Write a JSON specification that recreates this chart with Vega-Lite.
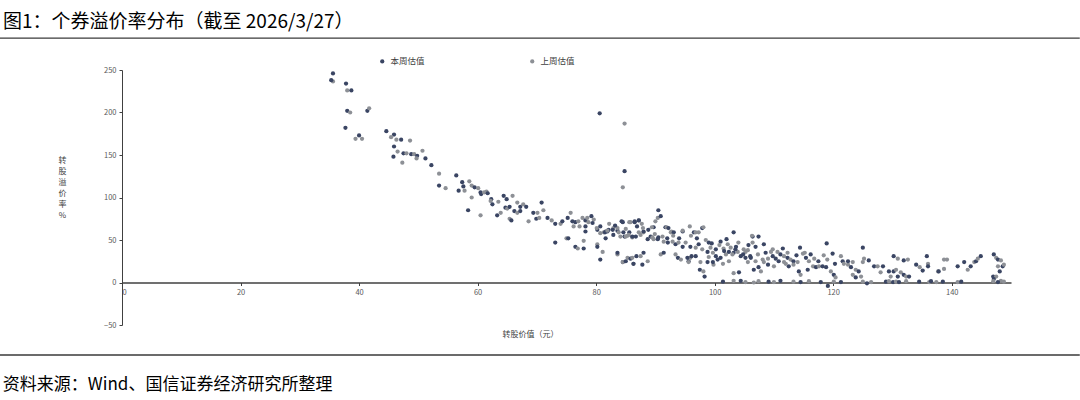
{
  "$schema": "https://vega.github.io/schema/vega-lite/v6.json",
  "autosize": "none",
  "width": 889,
  "height": 255,
  "padding": {"left": 122, "top": 70, "right": 69, "bottom": 75},
  "background": "white",
  "config": {"view": {"stroke": null}, "font": "Noto Sans CJK SC"},
  "title": {"text": "图1：个券溢价率分布（截至 2026/3/27）", "anchor": "start", "frame": "group", "dx": -119, "offset": 5, "fontSize": 19, "fontWeight": "normal", "color": "#000000", "font": "Noto Sans CJK SC"},
  "layer": [
    {
      "data": {"values": [{}]},
      "mark": {"type": "rule", "color": "#3a3a3a", "strokeWidth": 1.3},
      "encoding": {"x": {"datum": -20.6, "type": "quantitative"}, "x2": {"datum": 161.6}, "y": {"datum": 287.6, "type": "quantitative"}}
    },
    {
      "data": {"values": [{}]},
      "mark": {"type": "rule", "color": "#3a3a3a", "strokeWidth": 1.6},
      "encoding": {"x": {"datum": -20.6, "type": "quantitative"}, "x2": {"datum": 161.6}, "y": {"datum": -85.3, "type": "quantitative"}}
    },
    {
      "data": {"values": [{"t": "资料来源：Wind、国信证券经济研究所整理"}]},
      "mark": {"type": "text", "align": "left", "baseline": "middle", "fontSize": 17, "color": "#000000", "font": "Noto Sans CJK SC"},
      "encoding": {"x": {"datum": -20.1, "type": "quantitative"}, "y": {"datum": -120.6, "type": "quantitative"}, "text": {"field": "t"}}
    },
    {
      "data": {"values": [
{"x":35.6,"y":245.9,"s":"本周估值"},{"x":35.6,"y":236.5,"s":"上周估值"},{"x":35.3,"y":238,"s":"本周估值"},{"x":37.8,"y":234,"s":"本周估值"},{"x":38.0,"y":226,"s":"上周估值"},{"x":38.7,"y":226,"s":"本周估值"},{"x":38.0,"y":202,"s":"本周估值"},{"x":38.5,"y":200,"s":"上周估值"},{"x":37.7,"y":182,"s":"本周估值"},{"x":39.4,"y":169,"s":"上周估值"},
{"x":40.0,"y":173,"s":"本周估值"},{"x":40.5,"y":169,"s":"上周估值"},{"x":41.4,"y":202,"s":"本周估值"},{"x":41.7,"y":205,"s":"上周估值"},{"x":44.6,"y":178,"s":"本周估值"},{"x":45.9,"y":174,"s":"本周估值"},{"x":45.4,"y":171,"s":"上周估值"},{"x":46.3,"y":168,"s":"上周估值"},{"x":47.1,"y":168,"s":"本周估值"},{"x":48.6,"y":167,"s":"上周估值"},
{"x":45.9,"y":160,"s":"本周估值"},{"x":46.5,"y":154,"s":"上周估值"},{"x":45.8,"y":148,"s":"本周估值"},{"x":47.5,"y":152,"s":"本周估值"},{"x":48.0,"y":152,"s":"上周估值"},{"x":48.8,"y":151,"s":"本周估值"},{"x":49.3,"y":151,"s":"上周估值"},{"x":49.8,"y":149,"s":"本周估值"},{"x":50.7,"y":155,"s":"上周估值"},{"x":49.7,"y":146,"s":"上周估值"},
{"x":51.2,"y":146,"s":"本周估值"},{"x":47.3,"y":141,"s":"上周估值"},{"x":52.2,"y":138,"s":"本周估值"},{"x":53.5,"y":128,"s":"上周估值"},{"x":53.5,"y":114,"s":"本周估值"},{"x":54.6,"y":111,"s":"上周估值"},{"x":56.4,"y":126,"s":"本周估值"},{"x":57.4,"y":118,"s":"本周估值"},{"x":58.6,"y":119,"s":"上周估值"},{"x":57.6,"y":113,"s":"本周估值"},
{"x":59.0,"y":114,"s":"上周估值"},{"x":59.5,"y":112,"s":"本周估值"},{"x":60.1,"y":111,"s":"上周估值"},{"x":60.6,"y":104,"s":"本周估值"},{"x":61.5,"y":107,"s":"上周估值"},{"x":59.0,"y":100,"s":"上周估值"},{"x":62.3,"y":98,"s":"本周估值"},{"x":64.4,"y":102,"s":"本周估值"},{"x":65.9,"y":102,"s":"上周估值"},{"x":56.8,"y":108,"s":"本周估值"},
{"x":57.8,"y":108,"s":"上周估值"},{"x":58.4,"y":85,"s":"本周估值"},{"x":60.5,"y":79,"s":"上周估值"},{"x":60.5,"y":106,"s":"本周估值"},{"x":61.1,"y":106,"s":"上周估值"},{"x":61.7,"y":105,"s":"本周估值"},{"x":62.2,"y":96,"s":"上周估值"},{"x":62.5,"y":92,"s":"本周估值"},{"x":63.5,"y":95,"s":"上周估值"},{"x":64.9,"y":98,"s":"本周估值"},
{"x":63.3,"y":79,"s":"本周估值"},{"x":63.9,"y":82,"s":"上周估值"},{"x":64.7,"y":88,"s":"本周估值"},{"x":65.0,"y":87,"s":"上周估值"},{"x":65.4,"y":89,"s":"本周估值"},{"x":65.4,"y":75,"s":"上周估值"},{"x":65.7,"y":73,"s":"本周估值"},{"x":66.7,"y":94,"s":"上周估值"},{"x":67.2,"y":89,"s":"本周估值"},{"x":67.7,"y":92,"s":"上周估值"},
{"x":68.2,"y":89,"s":"本周估值"},{"x":66.2,"y":84,"s":"本周估值"},{"x":66.7,"y":82,"s":"上周估值"},{"x":67.2,"y":84,"s":"本周估值"},{"x":68.6,"y":72,"s":"上周估值"},{"x":69.4,"y":82,"s":"本周估值"},{"x":70.1,"y":82,"s":"上周估值"},{"x":69.9,"y":75,"s":"本周估值"},{"x":70.4,"y":76,"s":"上周估值"},{"x":70.8,"y":94,"s":"本周估值"},
{"x":71.1,"y":85,"s":"上周估值"},{"x":71.8,"y":76,"s":"本周估值"},{"x":72.5,"y":73,"s":"上周估值"},{"x":73.1,"y":69,"s":"本周估值"},{"x":73.1,"y":47,"s":"本周估值"},{"x":74.0,"y":69,"s":"上周估值"},{"x":74.3,"y":72,"s":"本周估值"},{"x":75.0,"y":52,"s":"上周估值"},{"x":75.3,"y":52,"s":"本周估值"},{"x":75.2,"y":76,"s":"本周估值"},
{"x":75.7,"y":82,"s":"上周估值"},{"x":76.0,"y":72,"s":"本周估值"},{"x":76.2,"y":66,"s":"上周估值"},{"x":76.5,"y":71,"s":"本周估值"},{"x":77.7,"y":76,"s":"上周估值"},{"x":78.2,"y":73,"s":"本周估值"},{"x":78.5,"y":76,"s":"上周估值"},{"x":79.2,"y":78,"s":"本周估值"},{"x":79.6,"y":74,"s":"上周估值"},{"x":76.5,"y":42,"s":"本周估值"},
{"x":76.9,"y":40,"s":"上周估值"},{"x":77.9,"y":40,"s":"本周估值"},{"x":77.9,"y":49,"s":"上周估值"},{"x":78.2,"y":60,"s":"本周估值"},{"x":77.2,"y":66,"s":"上周估值"},{"x":78.2,"y":66,"s":"本周估值"},{"x":78.7,"y":71,"s":"上周估值"},{"x":80.2,"y":62,"s":"本周估值"},{"x":80.7,"y":58,"s":"上周估值"},{"x":81.6,"y":60,"s":"本周估值"},
{"x":80.2,"y":45,"s":"上周估值"},{"x":80.7,"y":27,"s":"本周估值"},{"x":81.1,"y":36,"s":"上周估值"},{"x":82.1,"y":62,"s":"本周估值"},{"x":82.9,"y":64,"s":"上周估值"},{"x":83.6,"y":61,"s":"本周估值"},{"x":84.1,"y":54,"s":"上周估值"},{"x":84.8,"y":54,"s":"本周估值"},{"x":85.3,"y":55,"s":"上周估值"},{"x":85.6,"y":59,"s":"本周估值"},
{"x":86.1,"y":53,"s":"上周估值"},{"x":86.7,"y":54,"s":"本周估值"},{"x":87.2,"y":59,"s":"上周估值"},{"x":84.3,"y":72,"s":"本周估值"},{"x":85.8,"y":71,"s":"上周估值"},{"x":86.5,"y":72,"s":"本周估值"},{"x":87.2,"y":73,"s":"上周估值"},{"x":81.6,"y":52,"s":"本周估值"},{"x":83.6,"y":33,"s":"上周估值"},{"x":84.5,"y":24,"s":"本周估值"},
{"x":85.3,"y":29,"s":"上周估值"},{"x":85.8,"y":28,"s":"本周估值"},{"x":86.3,"y":22,"s":"上周估值"},{"x":86.8,"y":31,"s":"本周估值"},{"x":80.6,"y":199,"s":"本周估值"},{"x":84.8,"y":187,"s":"上周估值"},{"x":84.8,"y":131,"s":"本周估值"},{"x":84.5,"y":112,"s":"上周估值"},{"x":77.0,"y":72,"s":"上周估值"},{"x":79.4,"y":70,"s":"本周估值"},
{"x":80.1,"y":64,"s":"上周估值"},{"x":80.7,"y":66,"s":"本周估值"},{"x":81.3,"y":59,"s":"上周估值"},{"x":81.9,"y":60,"s":"本周估值"},{"x":80.2,"y":42,"s":"本周估值"},
{"x":81.5,"y":59,"s":"本周估值"},{"x":81.9,"y":61,"s":"上周估值"},{"x":82.8,"y":62,"s":"本周估值"},{"x":83.6,"y":64,"s":"上周估值"},{"x":82.9,"y":56,"s":"本周估值"},{"x":83.8,"y":59,"s":"上周估值"},{"x":84.6,"y":59,"s":"本周估值"},{"x":85.5,"y":56,"s":"上周估值"},{"x":86.1,"y":54,"s":"本周估值"},{"x":85.0,"y":54,"s":"上周估值"},
{"x":84.5,"y":71,"s":"本周估值"},{"x":85.6,"y":71,"s":"上周估值"},{"x":86.5,"y":71,"s":"本周估值"},{"x":87.7,"y":69,"s":"上周估值"},{"x":83.6,"y":35,"s":"本周估值"},{"x":84.5,"y":24,"s":"上周估值"},{"x":85.0,"y":25,"s":"本周估值"},{"x":86.1,"y":29,"s":"上周估值"},{"x":86.3,"y":22,"s":"本周估值"},{"x":87.5,"y":31,"s":"上周估值"},
{"x":88.0,"y":35,"s":"本周估值"},{"x":88.7,"y":25,"s":"上周估值"},{"x":87.8,"y":21,"s":"本周估值"},{"x":88.0,"y":59,"s":"上周估值"},{"x":89.2,"y":54,"s":"本周估值"},{"x":89.7,"y":51,"s":"上周估值"},{"x":90.5,"y":53,"s":"本周估值"},{"x":91.4,"y":48,"s":"上周估值"},{"x":92.1,"y":47,"s":"本周估值"},{"x":92.9,"y":48,"s":"上周估值"},
{"x":93.4,"y":45,"s":"本周估值"},{"x":93.9,"y":47,"s":"上周估值"},{"x":94.6,"y":42,"s":"本周估值"},{"x":95.1,"y":47,"s":"上周估值"},{"x":95.9,"y":42,"s":"本周估值"},{"x":96.8,"y":41,"s":"上周估值"},{"x":97.3,"y":45,"s":"本周估值"},{"x":97.9,"y":39,"s":"上周估值"},{"x":98.8,"y":36,"s":"本周估值"},{"x":99.7,"y":35,"s":"上周估值"},
{"x":100.2,"y":39,"s":"本周估值"},{"x":91.7,"y":65,"s":"本周估值"},{"x":92.6,"y":59,"s":"上周估值"},{"x":94.6,"y":60,"s":"本周估值"},{"x":95.8,"y":66,"s":"上周估值"},{"x":96.5,"y":59,"s":"本周估值"},{"x":97.3,"y":59,"s":"上周估值"},{"x":99.0,"y":47,"s":"本周估值"},{"x":99.3,"y":41,"s":"上周估值"},{"x":101.0,"y":48,"s":"本周估值"},
{"x":93.8,"y":29,"s":"本周估值"},{"x":94.3,"y":27,"s":"上周估值"},{"x":95.6,"y":25,"s":"本周估值"},{"x":95.9,"y":29,"s":"上周估值"},{"x":96.8,"y":31,"s":"本周估值"},{"x":97.6,"y":24,"s":"上周估值"},{"x":98.8,"y":24,"s":"本周估值"},{"x":99.8,"y":21,"s":"上周估值"},{"x":101.0,"y":29,"s":"本周估值"},{"x":101.9,"y":33,"s":"上周估值"},
{"x":97.5,"y":15,"s":"本周估值"},{"x":98.1,"y":13,"s":"上周估值"},{"x":98.3,"y":7,"s":"本周估值"},{"x":90.5,"y":85,"s":"本周估值"},{"x":90.4,"y":76,"s":"上周估值"},{"x":90.9,"y":78,"s":"本周估值"},{"x":90.0,"y":72,"s":"上周估值"},{"x":89.7,"y":65,"s":"本周估值"},{"x":89.4,"y":65,"s":"上周估值"},{"x":88.0,"y":60,"s":"本周估值"},
{"x":87.2,"y":73,"s":"本周估值"},{"x":87.5,"y":56,"s":"上周估值"},{"x":91.9,"y":65,"s":"上周估值"},{"x":92.2,"y":64,"s":"本周估值"},{"x":92.7,"y":60,"s":"上周估值"},{"x":93.1,"y":59,"s":"本周估值"},{"x":94.6,"y":61,"s":"上周估值"},{"x":96.8,"y":59,"s":"上周估值"},{"x":97.9,"y":64,"s":"本周估值"},{"x":98.1,"y":65,"s":"上周估值"},
{"x":88.7,"y":51,"s":"本周估值"},{"x":89.5,"y":53,"s":"上周估值"},{"x":90.4,"y":51,"s":"本周估值"},{"x":91.2,"y":54,"s":"上周估值"},{"x":90.9,"y":33,"s":"上周估值"},{"x":91.4,"y":35,"s":"本周估值"},{"x":93.4,"y":33,"s":"上周估值"},{"x":95.4,"y":29,"s":"本周估值"},{"x":95.6,"y":24,"s":"上周估值"},{"x":96.1,"y":31,"s":"本周估值"},
{"x":99.7,"y":24,"s":"本周估值"},{"x":101.4,"y":22,"s":"上周估值"},{"x":100.2,"y":31,"s":"本周估值"},
{"x":103.2,"y":59,"s":"本周估值"},{"x":102.7,"y":41,"s":"上周估值"},{"x":103.2,"y":35,"s":"本周估值"},{"x":103.9,"y":36,"s":"上周估值"},{"x":104.4,"y":31,"s":"本周估值"},{"x":104.9,"y":39,"s":"上周估值"},{"x":105.2,"y":29,"s":"本周估值"},{"x":105.6,"y":24,"s":"上周估值"},{"x":106.4,"y":54,"s":"本周估值"},{"x":106.4,"y":47,"s":"上周估值"},
{"x":106.9,"y":42,"s":"本周估值"},{"x":107.3,"y":33,"s":"上周估值"},{"x":107.4,"y":54,"s":"本周估值"},{"x":103.2,"y":11,"s":"上周估值"},{"x":104.4,"y":2,"s":"本周估值"},{"x":106.6,"y":0,"s":"上周估值"},{"x":102.4,"y":36,"s":"本周估值"},{"x":103.0,"y":33,"s":"上周估值"},{"x":103.5,"y":39,"s":"本周估值"},{"x":102.4,"y":25,"s":"上周估值"},
{"x":104.1,"y":12,"s":"本周估值"},{"x":101.5,"y":40,"s":"上周估值"},{"x":102.0,"y":51,"s":"本周估值"},{"x":105.7,"y":44,"s":"本周估值"},{"x":105.2,"y":36,"s":"上周估值"},{"x":106.1,"y":29,"s":"本周估值"},{"x":106.9,"y":25,"s":"上周估值"},{"x":107.4,"y":18,"s":"本周估值"},{"x":108.1,"y":27,"s":"上周估值"},{"x":107.8,"y":13,"s":"上周估值"},
{"x":106.3,"y":55,"s":"上周估值"},
{"x":108.6,"y":35,"s":"本周估值"},{"x":109.5,"y":36,"s":"上周估值"},{"x":109.8,"y":31,"s":"本周估值"},{"x":110.6,"y":36,"s":"上周估值"},{"x":111.1,"y":33,"s":"本周估值"},{"x":111.7,"y":31,"s":"上周估值"},{"x":112.3,"y":29,"s":"本周估值"},{"x":112.8,"y":27,"s":"上周估值"},{"x":113.3,"y":25,"s":"本周估值"},{"x":114.0,"y":24,"s":"上周估值"},
{"x":108.3,"y":24,"s":"上周估值"},{"x":109.0,"y":21,"s":"本周估值"},{"x":110.0,"y":19,"s":"上周估值"},{"x":110.8,"y":25,"s":"本周估值"},{"x":111.7,"y":24,"s":"上周估值"},{"x":112.5,"y":19,"s":"本周估值"},{"x":113.3,"y":21,"s":"上周估值"},{"x":106.6,"y":15,"s":"本周估值"},{"x":114.4,"y":41,"s":"本周估值"},{"x":114.9,"y":34,"s":"上周估值"},
{"x":115.4,"y":29,"s":"本周估值"},{"x":115.9,"y":25,"s":"上周估值"},{"x":114.2,"y":13,"s":"本周估值"},{"x":114.5,"y":9,"s":"上周估值"},{"x":115.7,"y":15,"s":"本周估值"},{"x":116.6,"y":19,"s":"上周估值"},{"x":117.1,"y":18,"s":"本周估值"},{"x":117.6,"y":19,"s":"上周估值"},{"x":118.2,"y":19,"s":"本周估值"},{"x":118.9,"y":46,"s":"本周估值"},
{"x":118.4,"y":32,"s":"上周估值"},{"x":119.9,"y":34,"s":"本周估值"},{"x":121.3,"y":31,"s":"上周估值"},{"x":121.6,"y":25,"s":"本周估值"},{"x":121.8,"y":22,"s":"上周估值"},{"x":118.8,"y":18,"s":"本周估值"},{"x":119.6,"y":13,"s":"上周估值"},{"x":120.1,"y":9,"s":"本周估值"},{"x":120.4,"y":6,"s":"上周估值"},{"x":119.1,"y":-4,"s":"本周估值"},
{"x":122.5,"y":21,"s":"上周估值"},{"x":123.0,"y":18,"s":"本周估值"},{"x":123.8,"y":15,"s":"上周估值"},{"x":124.3,"y":13,"s":"本周估值"},{"x":123.3,"y":9,"s":"上周估值"},{"x":123.8,"y":6,"s":"本周估值"},{"x":124.7,"y":7,"s":"上周估值"},{"x":125.0,"y":41,"s":"本周估值"},{"x":125.2,"y":28,"s":"上周估值"},{"x":126.0,"y":26,"s":"本周估值"},
{"x":115.2,"y":35,"s":"上周估值"},{"x":116.2,"y":33,"s":"本周估值"},{"x":122.5,"y":25,"s":"本周估值"},{"x":123.3,"y":24,"s":"上周估值"},
{"x":125.0,"y":24,"s":"上周估值"},{"x":126.9,"y":19,"s":"本周估值"},{"x":127.5,"y":19,"s":"上周估值"},{"x":128.4,"y":19,"s":"本周估值"},{"x":128.0,"y":12,"s":"上周估值"},{"x":129.4,"y":13,"s":"本周估值"},{"x":129.7,"y":7,"s":"上周估值"},{"x":130.2,"y":13,"s":"本周估值"},{"x":130.6,"y":15,"s":"上周估值"},{"x":130.9,"y":7,"s":"本周估值"},
{"x":131.4,"y":12,"s":"上周估值"},{"x":131.9,"y":9,"s":"本周估值"},{"x":132.3,"y":7,"s":"上周估值"},{"x":132.8,"y":7,"s":"本周估值"},{"x":130.2,"y":31,"s":"本周估值"},{"x":130.9,"y":28,"s":"上周估值"},{"x":131.9,"y":26,"s":"本周估值"},{"x":132.6,"y":27,"s":"上周估值"},{"x":134.0,"y":21,"s":"本周估值"},{"x":134.6,"y":18,"s":"上周估值"},
{"x":135.1,"y":14,"s":"本周估值"},{"x":135.8,"y":31,"s":"本周估值"},{"x":136.0,"y":22,"s":"上周估值"},{"x":136.0,"y":19,"s":"本周估值"},{"x":137.7,"y":13,"s":"上周估值"},{"x":137.8,"y":13,"s":"本周估值"},{"x":138.7,"y":16,"s":"上周估值"},{"x":138.7,"y":27,"s":"上周估值"},{"x":139.2,"y":27,"s":"上周估值"},{"x":141.0,"y":19,"s":"本周估值"},
{"x":142.1,"y":24,"s":"本周估值"},{"x":142.7,"y":15,"s":"上周估值"},{"x":143.2,"y":19,"s":"本周估值"},{"x":143.8,"y":24,"s":"上周估值"},{"x":144.1,"y":25,"s":"本周估值"},{"x":144.4,"y":28,"s":"上周估值"},{"x":144.9,"y":31,"s":"本周估值"},{"x":147.1,"y":33,"s":"本周估值"},{"x":147.5,"y":29,"s":"上周估值"},{"x":147.8,"y":27,"s":"本周估值"},
{"x":148.3,"y":26,"s":"上周估值"},{"x":148.6,"y":19,"s":"本周估值"},{"x":147.8,"y":19,"s":"上周估值"},{"x":148.1,"y":13,"s":"本周估值"},{"x":148.8,"y":21,"s":"上周估值"},{"x":147.0,"y":7,"s":"本周估值"},{"x":147.5,"y":7,"s":"上周估值"},{"x":147.1,"y":4,"s":"本周估值"},{"x":148.3,"y":2,"s":"上周估值"},
{"x":101.4,"y":1,"s":"本周估值"},{"x":103.2,"y":2,"s":"上周估值"},{"x":105.2,"y":0.5,"s":"上周估值"},{"x":107.4,"y":1.5,"s":"上周估值"},{"x":109.1,"y":1,"s":"本周估值"},{"x":110.0,"y":0.5,"s":"上周估值"},{"x":111.1,"y":2,"s":"本周估值"},{"x":113.3,"y":1,"s":"上周估值"},{"x":114.5,"y":0.5,"s":"本周估值"},{"x":115.9,"y":1.5,"s":"上周估值"},
{"x":117.9,"y":0.5,"s":"本周估值"},{"x":120.1,"y":1,"s":"上周估值"},{"x":121.3,"y":0.5,"s":"本周估值"},{"x":125.0,"y":1,"s":"上周估值"},{"x":125.7,"y":-1,"s":"本周估值"},{"x":126.4,"y":0.5,"s":"上周估值"},{"x":128.9,"y":1,"s":"本周估值"},{"x":129.4,"y":1.5,"s":"上周估值"},{"x":130.1,"y":0.5,"s":"本周估值"},{"x":130.6,"y":1,"s":"上周估值"},
{"x":131.1,"y":0.5,"s":"本周估值"},{"x":132.3,"y":1.5,"s":"上周估值"},{"x":134.5,"y":1,"s":"本周估值"},{"x":136.2,"y":0.5,"s":"上周估值"},{"x":136.5,"y":1.5,"s":"本周估值"},{"x":137.4,"y":0.5,"s":"上周估值"},{"x":138.5,"y":1,"s":"本周估值"},{"x":141.0,"y":0.5,"s":"上周估值"},{"x":141.6,"y":1,"s":"本周估值"},{"x":147.0,"y":1.5,"s":"上周估值"},
{"x":147.8,"y":0.5,"s":"本周估值"},{"x":148.8,"y":1,"s":"上周估值"},
{"x":100.8,"y":44,"s":"上周估值"},{"x":101.6,"y":37,"s":"本周估值"},{"x":102.2,"y":45,"s":"上周估值"},{"x":103.6,"y":42,"s":"本周估值"},{"x":104.0,"y":47,"s":"上周估值"},{"x":104.8,"y":33,"s":"本周估值"},{"x":105.6,"y":38,"s":"上周估值"},{"x":106.0,"y":31,"s":"本周估值"},{"x":99.5,"y":46,"s":"本周估值"},{"x":98.5,"y":50,"s":"上周估值"},
{"x":97.0,"y":52,"s":"本周估值"},{"x":96.0,"y":55,"s":"上周估值"},{"x":94.0,"y":52,"s":"本周估值"},{"x":93.0,"y":55,"s":"上周估值"},{"x":92.0,"y":52,"s":"本周估值"},{"x":89.9,"y":57,"s":"上周估值"},{"x":88.8,"y":62,"s":"本周估值"},{"x":87.9,"y":64,"s":"上周估值"},{"x":86.9,"y":66,"s":"本周估值"},{"x":85.0,"y":63,"s":"上周估值"},
{"x":83.2,"y":67,"s":"本周估值"},{"x":82.2,"y":69,"s":"上周估值"},{"x":99.0,"y":30,"s":"上周估值"},{"x":100.5,"y":27,"s":"本周估值"},{"x":109.8,"y":39,"s":"上周估值"},{"x":111.5,"y":40,"s":"本周估值"},{"x":112.3,"y":35,"s":"上周估值"},{"x":113.8,"y":32,"s":"本周估值"},{"x":116.8,"y":28,"s":"上周估值"},{"x":117.5,"y":25,"s":"本周估值"},
{"x":119.0,"y":27,"s":"上周估值"},{"x":120.3,"y":22,"s":"本周估值"},{"x":109.0,"y":28,"s":"上周估值"},{"x":110.3,"y":28,"s":"本周估值"},{"x":108.3,"y":45,"s":"本周估值"},{"x":112.0,"y":22,"s":"上周估值"}
      ]},
      "mark": {"type": "circle", "size": 18, "opacity": 1},
      "encoding": {
        "x": {"field": "x", "type": "quantitative",
          "scale": {"domain": [0, 150], "nice": false, "zero": false},
          "axis": {"values": [0, 20, 40, 60, 80, 100, 120, 140], "offset": -42.5, "grid": false,
            "domainColor": "#404040", "domainWidth": 1.5, "tickColor": "#404040", "tickSize": 3,
            "labelFontSize": 7.5, "labelColor": "#595959", "labelPadding": 3, "labelFont": "Noto Sans CJK SC",
            "title": "转股价值（元）", "titleFontSize": 8, "titleFontWeight": "normal", "titleColor": "#404040",
            "titleX": 408, "titleY": 52, "titleAlign": "center", "titleBaseline": "middle", "titleFont": "Noto Sans CJK SC"}},
        "y": {"field": "y", "type": "quantitative",
          "scale": {"domain": [-50, 250], "nice": false, "zero": false},
          "axis": {"values": [-50, 0, 50, 100, 150, 200, 250], "grid": false,
            "domainColor": "#404040", "domainWidth": 1, "tickColor": "#404040", "tickSize": 3,
            "labelFontSize": 7.5, "labelColor": "#595959", "labelPadding": 3, "labelFont": "Noto Sans CJK SC",
            "title": ["转", "股", "溢", "价", "率", "%"], "titleAngle": 0, "titleFontSize": 8, "titleFontWeight": "normal",
            "titleColor": "#404040", "titleX": -60, "titleY": 86, "titleAlign": "center", "titleBaseline": "top", "titleLineHeight": 11, "titleFont": "Noto Sans CJK SC"}},
        "color": {"field": "s", "type": "nominal",
          "scale": {"domain": ["本周估值", "上周估值"], "range": ["#3a4563", "#8d9096"]},
          "legend": {"title": null, "orient": "none", "legendX": 256, "legendY": -13, "direction": "horizontal",
            "symbolType": "circle", "symbolSize": 18, "labelFontSize": 8.5, "labelColor": "#404040", "columnPadding": 103, "labelFont": "Noto Sans CJK SC"}}
      }
    }
  ]
}
